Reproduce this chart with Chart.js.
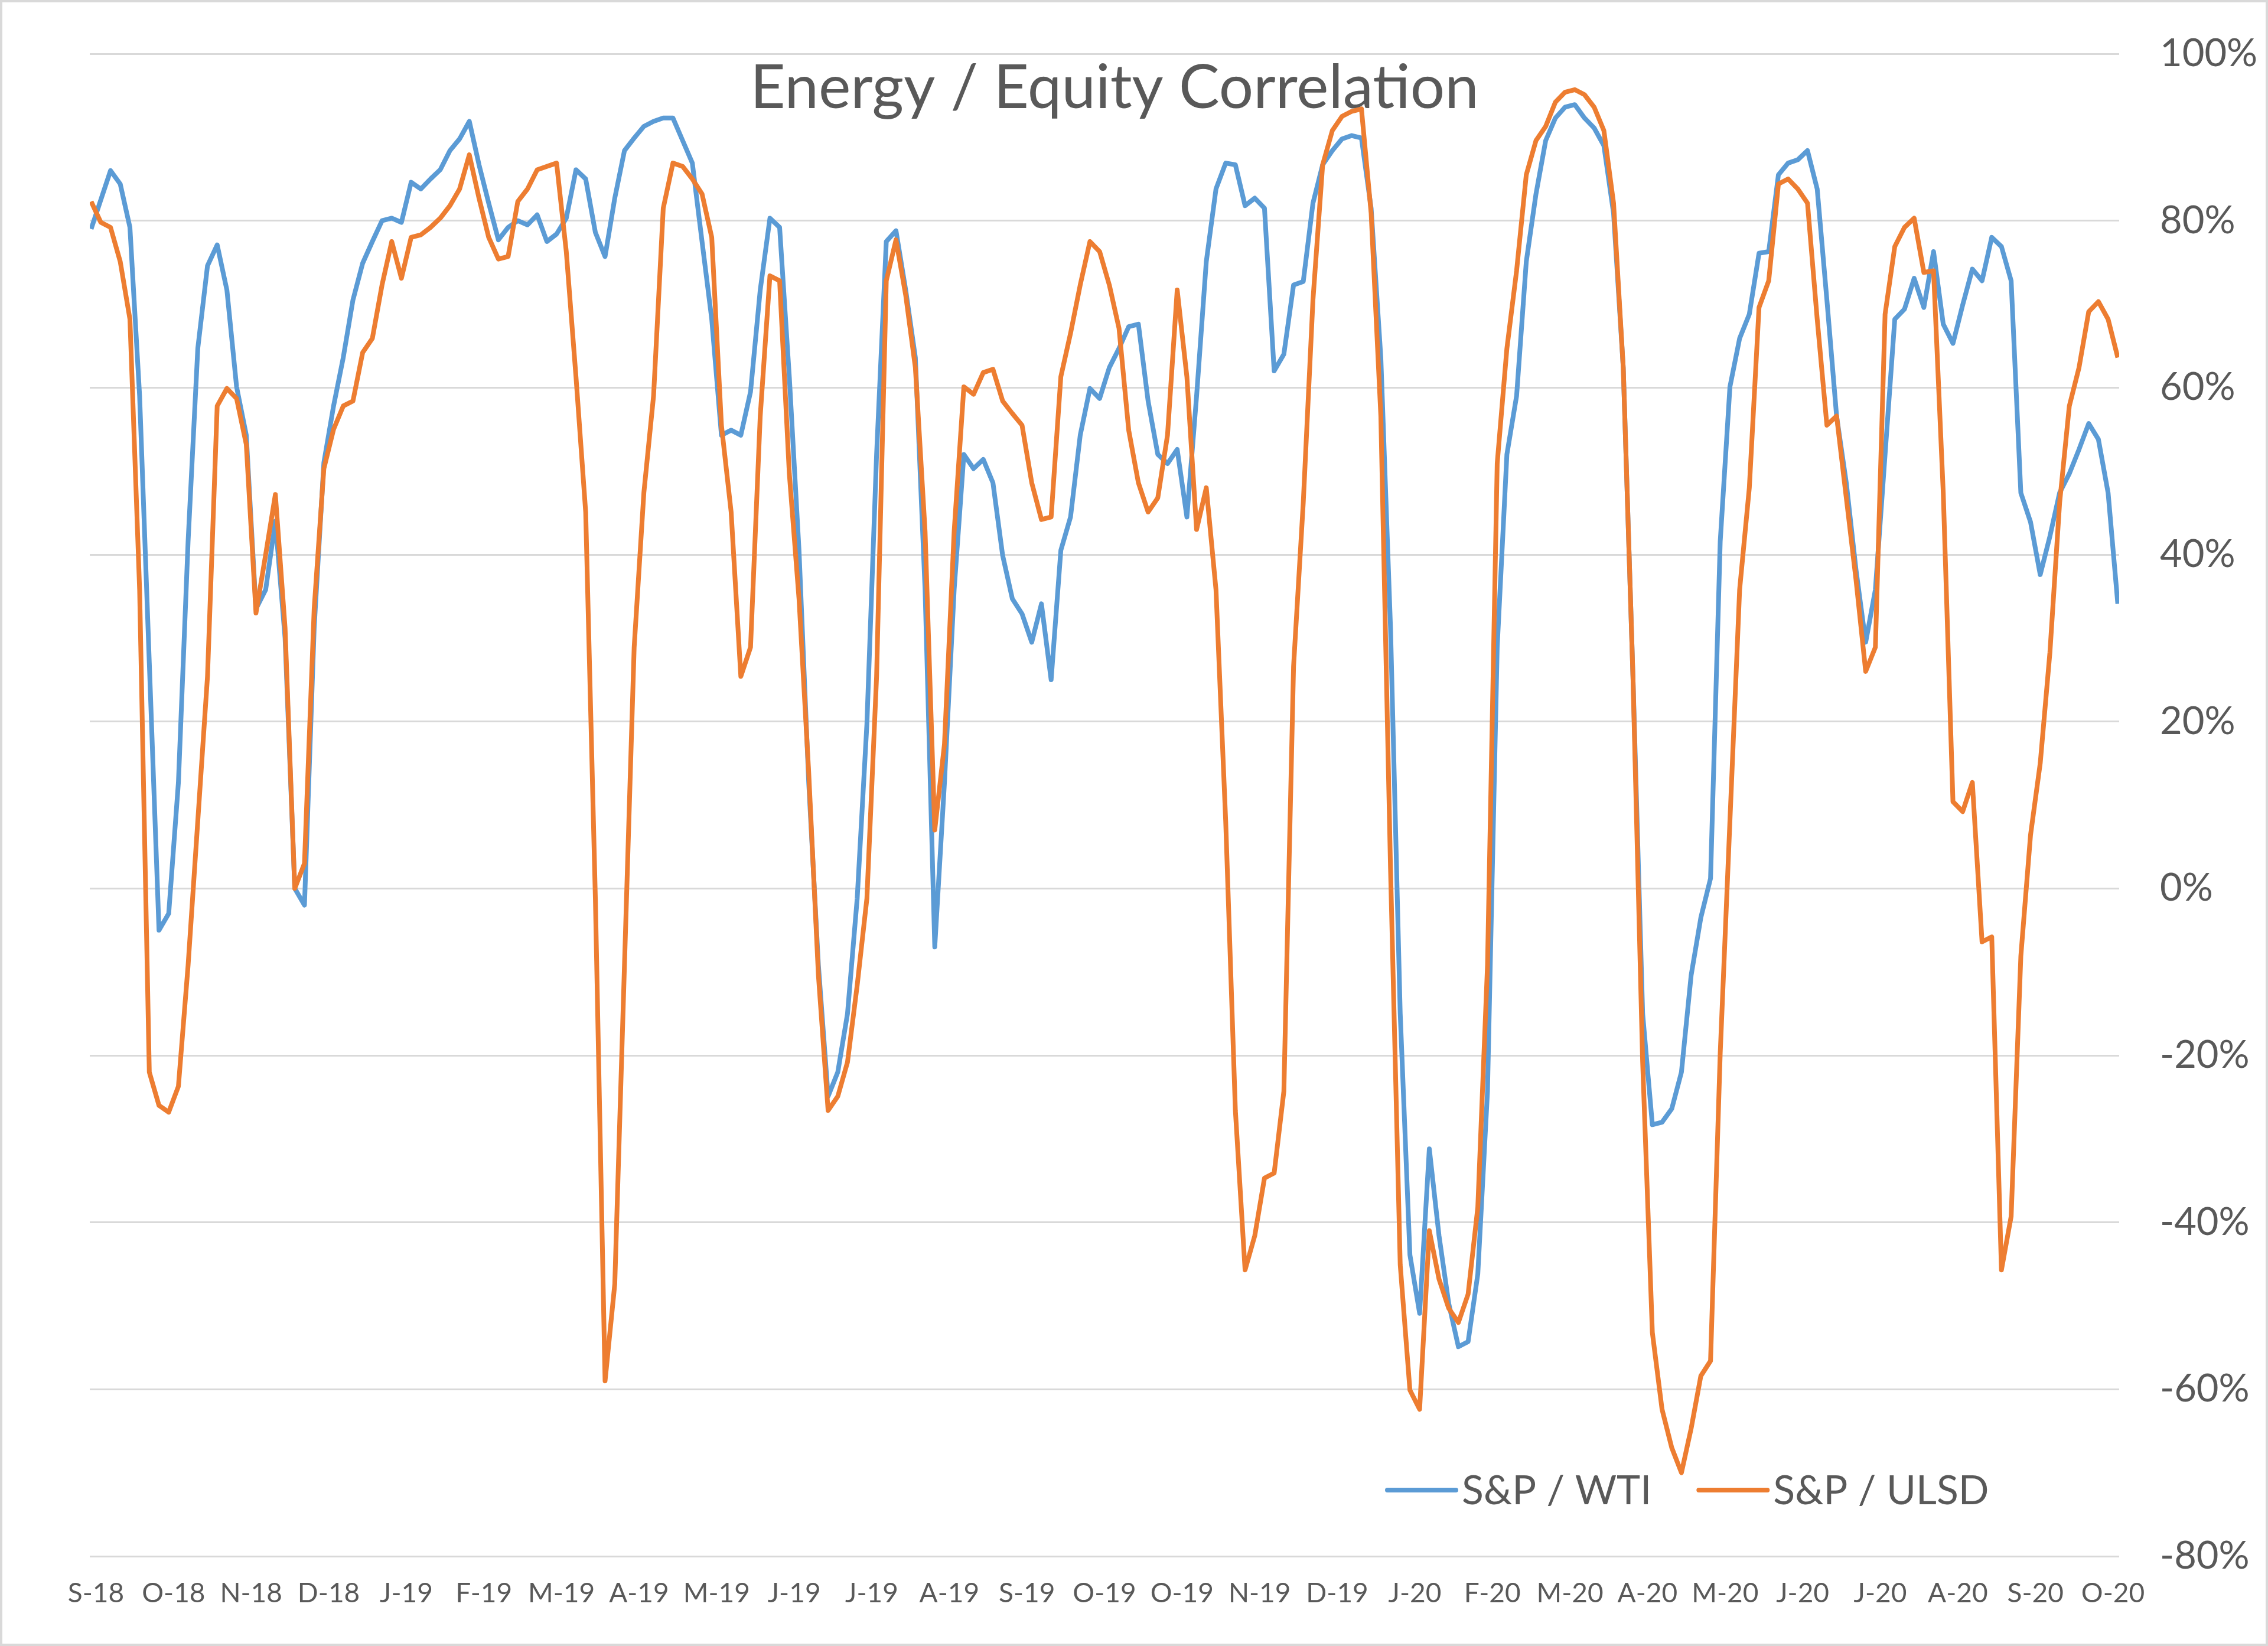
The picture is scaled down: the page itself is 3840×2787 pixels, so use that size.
<!DOCTYPE html>
<html>
<head>
<meta charset="utf-8">
<script src="https://cdn.jsdelivr.net/npm/chart.js@4.4.1/dist/chart.umd.min.js"></script>
<style>
  html, body { margin: 0; padding: 0; background: #ffffff; }
  #wrap { width: 3840px; height: 2787px; }
</style>
</head>
<body>
<div id="wrap"><canvas id="chart" width="3840" height="2787"></canvas></div>
<script>
var chartTitle = 'Energy / Equity Correlation';

var tickLabels = ['S-18','O-18','N-18','D-18','J-19','F-19','M-19','A-19','M-19','J-19','J-19','A-19','S-19','O-19',
  'O-19','N-19','D-19','J-20','F-20','M-20','A-20','M-20','J-20','J-20','A-20','S-20','O-20'];

// samples every 1/8 of a tick interval, first one just before S-18
var firstSample = -0.0625;
var sampleStep = 0.125;

// S&P / WTI, rolling correlation in %
var wti = [
  79, 82.5, 86, 84.4, 79.2, 59, 27, -5, -3, 12.7,
  41.6, 64.7, 74.6, 77.1, 71.7, 60.1, 54.3, 33.5, 35.8, 44,
  30, 0, -2, 31.2, 51, 57.8, 63.6, 70.5, 74.9, 77.5,
  80, 80.3, 79.8, 84.6, 83.8, 85, 86.1, 88.4, 89.8, 91.9,
  86.7, 82.1, 77.7, 79.2, 80, 79.5, 80.7, 77.5, 78.4, 80.3,
  86.1, 85, 78.6, 75.7, 82.7, 88.4, 89.9, 91.3, 91.9, 92.3,
  92.3, 89.6, 86.9, 77.5, 68.2, 54.3, 54.9, 54.3, 59.5, 71.7,
  80.3, 79.2, 61.3, 40.5, 12.7, -9.2, -24.9, -22, -15, -1.2,
  19.7, 52, 77.5, 78.8, 71.7, 63.6, 35.8, -7, 12.7, 35.8,
  52, 50.3, 51.4, 48.6, 39.9, 34.7, 32.9, 29.5, 34.1, 25,
  40.5, 44.5, 54.3, 59.9, 58.7, 62.4, 64.7, 67.3, 67.6, 58.4,
  52, 50.9, 52.6, 44.5, 59, 75.1, 83.8, 86.9, 86.7, 81.8,
  82.7, 81.5, 62, 64, 72.3, 72.7, 82.1, 86.7, 88.4, 89.8,
  90.2, 89.9, 81.5, 63.6, 31.2, -15, -43.9, -50.9, -31.2, -41.6,
  -49.7, -54.9, -54.3, -46.2, -24.3, 28.9, 52, 59, 75.1, 83.2,
  89.6, 92.3, 93.6, 93.9, 92.3, 91.1, 89, 80.9, 62.4, 25.4,
  -15, -28.3, -28, -26.4, -22, -10.4, -3.5, 1.2, 41.6, 60.1,
  65.9, 68.8, 76.1, 76.3, 85.5, 86.9, 87.3, 88.4, 83.8, 70.5,
  56.6, 48.6, 38.2, 29.5, 35.8, 52, 68.2, 69.4, 73.1, 69.6,
  76.3, 67.6, 65.3, 69.9, 74.2, 72.8, 78, 76.9, 72.8, 47.4,
  43.9, 37.6, 42.2, 47.4, 49.7, 52.6, 55.7, 53.8, 47.4, 34.1
];

// S&P / ULSD
var ulsd = [
  82.3, 79.8, 79.2, 75.1, 68.2, 35.8, -22, -26, -26.8, -23.7,
  -9.2, 8.1, 25.4, 57.8, 59.9, 58.7, 53.2, 33, 40, 47.2,
  31.2, 0, 3, 33.5, 50.3, 55, 57.8, 58.4, 64.2, 65.9,
  72.3, 77.5, 73.1, 78, 78.3, 79.2, 80.3, 81.8, 83.8, 87.9,
  82.7, 78, 75.4, 75.7, 82.3, 83.8, 86.1, 86.5, 86.9, 76.3,
  61.3, 45.1, -1.2, -59, -47.4, -9.2, 28.9, 47.4, 59, 81.5,
  86.9, 86.5, 85, 83.2, 78, 55.5, 45.1, 25.4, 28.9, 56.6,
  73.4, 72.8, 49.7, 34.7, 13.9, -10.4, -26.6, -24.9, -20.8, -11.6,
  -1.2, 25.4, 72.8, 77.7, 71.1, 62.4, 42.8, 7, 17.3, 42.8,
  60.1, 59.2, 61.8, 62.2, 58.4, 56.9, 55.5, 48.6, 44.2, 44.5,
  61.3, 66.5, 72.3, 77.5, 76.3, 72.3, 67.1, 54.9, 48.6, 45.1,
  46.8, 54.3, 71.7, 61.3, 43, 48, 35.8, 8.1, -26.6, -45.7,
  -41.6, -34.7, -34.1, -24.3, 26.6, 46.2, 70.5, 86.7, 90.8, 92.5,
  93.1, 93.4, 80.9, 56.6, 2.3, -45.1, -60.1, -62.4, -41, -46.8,
  -50.3, -52, -48.6, -38.2, -9.2, 50.9, 64.7, 74, 85.5, 89.6,
  91.3, 94.2, 95.4, 95.7, 95.1, 93.6, 90.8, 82.1, 62.4, 25.4,
  -20.8, -53.2, -62.4, -67, -70, -64.7, -58.4, -56.6, -19.7, 8.1,
  35.8, 48, 69.6, 72.8, 84.4, 85, 83.8, 82.1, 68.2, 55.5,
  56.6, 46.8, 37, 26, 28.9, 68.8, 76.9, 79.2, 80.3, 73.8,
  74, 47.4, 10.4, 9.2, 12.7, -6.4, -5.8, -45.7, -39.3, -8.1,
  6.4, 15, 28.3, 46.2, 57.8, 62.4, 69.1, 70.3, 68.2, 63.6
];

var seriesNames = ['S&P / WTI', 'S&P / ULSD'];
var blue = '#5b9bd5';
var orange = '#ed7d31';
var textGrey = '#595959';

function toPoints(arr) {
  return arr.map(function (v, i) { return { x: firstSample + i * sampleStep, y: v }; });
}

var overlay = {
  id: 'overlay',
  beforeDatasetsDraw: function (chart) {
    var c = chart.ctx;
    c.save();
    c.fillStyle = textGrey;
    c.font = '103px Lato';
    c.textAlign = 'center';
    c.textBaseline = 'alphabetic';
    c.fillText(chartTitle, 1887, 183);
    c.restore();
  },
  afterDatasetsDraw: function (chart) {
    var c = chart.ctx;
    var colors = [blue, orange];
    var x = 2349, y = 2523;
    c.save();
    c.font = '68px Lato';
    c.textBaseline = 'alphabetic';
    c.textAlign = 'left';
    for (var i = 0; i < seriesNames.length; i++) {
      c.strokeStyle = colors[i];
      c.lineWidth = 8;
      c.lineCap = 'round';
      c.beginPath();
      c.moveTo(x, y);
      c.lineTo(x + 116, y);
      c.stroke();
      c.fillStyle = textGrey;
      c.fillText(seriesNames[i], x + 126, y + 24);
      x += 126 + c.measureText(seriesNames[i]).width + 80;
    }
    c.restore();
  },
  afterDraw: function (chart) {
    var c = chart.ctx;
    c.save();
    c.strokeStyle = '#d9d9d9';
    c.lineWidth = 4;
    c.strokeRect(2, 2, chart.width - 4, chart.height - 4);
    c.restore();
  }
};

new Chart(document.getElementById('chart'), {
  type: 'line',
  data: {
    datasets: [{
      label: seriesNames[0],
      data: toPoints(wti),
      borderColor: blue,
      backgroundColor: blue,
      borderWidth: 8,
      pointRadius: 0,
      tension: 0,
      borderJoinStyle: 'round',
      order: 2
    }, {
      label: seriesNames[1],
      data: toPoints(ulsd),
      borderColor: orange,
      backgroundColor: orange,
      borderWidth: 8,
      pointRadius: 0,
      tension: 0,
      borderJoinStyle: 'round',
      order: 1
    }]
  },
  options: {
    responsive: false,
    devicePixelRatio: 1,
    animation: false,
    layout: { padding: { left: 152, top: 91, right: 0, bottom: 0 } },
    scales: {
      x: {
        type: 'linear',
        min: -0.08,
        max: 26.08,
        afterBuildTicks: function (scale) {
          scale.ticks = tickLabels.map(function (_, i) { return { value: i }; });
        },
        afterFit: function (scale) { scale.height = 152; },
        grid: { display: false, drawTicks: false },
        border: { display: false },
        ticks: {
          autoSkip: false,
          maxRotation: 0,
          padding: 36,
          color: textGrey,
          font: { family: 'Lato', size: 46 },
          callback: function (v) { return tickLabels[v]; }
        }
      },
      y: {
        position: 'right',
        min: -80,
        max: 100,
        afterFit: function (scale) { scale.width = 252; },
        // invisible tick marks push the labels away from the plot without padding the top
        grid: { color: '#d9d9d9', lineWidth: 3, drawTicks: true, tickLength: 69, tickColor: 'rgba(0,0,0,0)' },
        border: { display: false },
        ticks: {
          stepSize: 20,
          padding: 0,
          color: textGrey,
          font: { family: 'Lato', size: 65 },
          callback: function (v) { return v + '%'; }
        }
      }
    },
    plugins: {
      legend: { display: false },
      tooltip: { enabled: false }
    }
  },
  plugins: [overlay]
});
</script>
</body>
</html>
